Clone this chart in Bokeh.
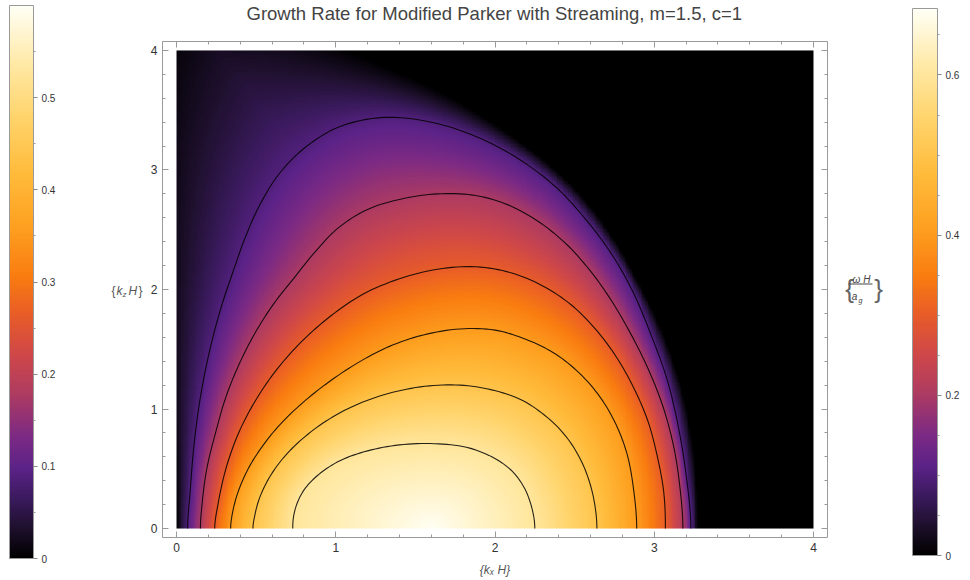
import numpy as np
from bokeh.plotting import figure
from bokeh.models import (LinearColorMapper, ColorBar, LinearAxis, SingleIntervalTicker,
                          FixedTicker, Range1d)
from bokeh.layouts import row
from bokeh.embed import file_html
from bokeh.resources import INLINE
from bokeh.core.properties import value

FONT = "Liberation Sans"

# ---------------- data ----------------
title_text = "Growth Rate for Modified Parker with Streaming, m=1.5, c=1"
x_label = "{kₓ H}"
domain_kx = [0.0, 4.0]
domain_kz = [0.0, 4.0]
axis_ticks = [0, 1, 2, 3, 4]

contour_levels = [0.1, 0.2, 0.3, 0.4, 0.5, 0.6]

# contour lines (kx, kz), traced from foot to foot
c10_kx = [0.07, 0.085, 0.11, 0.15, 0.21, 0.28, 0.355, 0.43, 0.52, 0.64, 0.80, 1.02, 1.30,
          1.60, 1.88, 2.14, 2.38, 2.58, 2.74, 2.87, 2.98, 3.08, 3.15, 3.20, 3.23]
c10_kz = [0.00, 0.30, 0.70, 1.10, 1.50, 1.85, 2.15, 2.43, 2.70, 2.96, 3.18, 3.36, 3.44,
          3.40, 3.28, 3.10, 2.86, 2.57, 2.28, 1.97, 1.62, 1.25, 0.86, 0.45, 0.00]
c20_kx = [0.15, 0.16, 0.19, 0.245, 0.31, 0.395, 0.495, 0.61, 0.74, 0.88, 1.02, 1.20, 1.42, 1.64,
          1.86, 2.06, 2.26, 2.44, 2.59, 2.72, 2.84, 2.95, 3.05, 3.12, 3.16, 3.18]
c20_kz = [0.00, 0.20, 0.50, 0.80, 1.10, 1.38, 1.64, 1.88, 2.10, 2.33, 2.52, 2.67, 2.76, 2.80,
          2.79, 2.72, 2.58, 2.39, 2.17, 1.93, 1.66, 1.37, 1.04, 0.70, 0.36, 0.00]
c30_kx = [0.24, 0.26, 0.31, 0.39, 0.50, 0.635, 0.79, 0.97, 1.17, 1.40, 1.64, 1.88,
          2.10, 2.30, 2.48, 2.63, 2.76, 2.87, 2.96, 3.02, 3.06, 3.07]
c30_kz = [0.00, 0.20, 0.50, 0.80, 1.08, 1.34, 1.57, 1.78, 1.96, 2.09, 2.17, 2.19,
          2.14, 2.03, 1.87, 1.67, 1.44, 1.18, 0.90, 0.60, 0.30, 0.00]
c40_kx = [0.34, 0.35, 0.385, 0.45, 0.54, 0.65, 0.79, 0.95, 1.13, 1.33, 1.55, 1.78,
          2.00, 2.20, 2.38, 2.53, 2.66, 2.76, 2.83, 2.87, 2.89]
c40_kz = [0.00, 0.12, 0.30, 0.50, 0.69, 0.87, 1.05, 1.22, 1.38, 1.52, 1.62, 1.67,
          1.66, 1.58, 1.46, 1.30, 1.10, 0.87, 0.62, 0.33, 0.00]
c50_kx = [0.48, 0.49, 0.52, 0.58, 0.67, 0.79, 0.94, 1.12, 1.33, 1.56, 1.78,
          1.98, 2.16, 2.31, 2.44, 2.54, 2.60, 2.63, 2.64]
c50_kz = [0.00, 0.10, 0.25, 0.42, 0.59, 0.75, 0.90, 1.03, 1.13, 1.19, 1.20,
          1.16, 1.08, 0.95, 0.78, 0.57, 0.36, 0.17, 0.00]
c60_kx = [0.73, 0.735, 0.76, 0.81, 0.90, 1.03, 1.20, 1.40, 1.62, 1.82, 1.98, 2.10, 2.18, 2.23, 2.25]
c60_kz = [0.00, 0.10, 0.22, 0.34, 0.46, 0.57, 0.65, 0.70, 0.71, 0.68, 0.60, 0.49, 0.35, 0.18, 0.00]

# where the growth rate falls to zero (left edge, faded top, sharp right edge)
edge_kx = [0.00, 0.00, 0.60, 0.95, 1.30, 1.65, 1.98, 2.28, 2.53, 2.73, 2.90, 3.03, 3.14, 3.22,
           3.26, 3.27]
edge_kz = [0.00, 4.40, 4.28, 4.08, 3.88, 3.66, 3.40, 3.11, 2.80, 2.45, 2.05, 1.70, 1.30, 0.85,
           0.40, 0.00]

# maximum growth rate
peak_kx, peak_kz, peak_rate = 1.60, 0.0, 0.68

# colour bars
left_bar_max = 0.60
left_bar_ticks = [0.0, 0.1, 0.2, 0.3, 0.4, 0.5]
left_bar_minor = [0.05, 0.15, 0.25, 0.35, 0.45, 0.55]
right_bar_max = 0.683
right_bar_ticks = [0.0, 0.2, 0.4, 0.6]
right_bar_minor = [0.05, 0.1, 0.15, 0.25, 0.3, 0.35, 0.45, 0.5, 0.55, 0.65]

# SunsetColors-like gradient
cmap_pos = [0.0, 0.05, 0.10, 0.16, 0.22, 0.30, 0.37, 0.44, 0.51, 0.60, 0.70, 0.80, 0.90, 1.0]
cmap_hex = ["#000000", "#1c0f2a", "#361957", "#5a2287", "#7c2a84", "#b03c60", "#d04848",
            "#e85c28", "#f97c10", "#fea020", "#ffbc3c", "#ffd46c", "#ffeaa8", "#fffff5"]

# ---------------- helpers ----------------
def hex2rgb(h):
    return [int(h[i:i + 2], 16) for i in (1, 3, 5)]

rgb = np.array([hex2rgb(h) for h in cmap_hex], float)
tt = np.arange(256) / 255.0
palette = ["#%02x%02x%02x" % tuple(int(round(np.interp(t, cmap_pos, rgb[:, k]))) for k in range(3))
           for t in tt]


def smooth(xs, ys, n=8, alpha=0.5):
    """centripetal Catmull-Rom through the read points (mirrored at kz = 0)"""
    P = np.column_stack([xs, ys]).astype(float)
    first = np.array([P[1, 0], -P[1, 1]])
    last = np.array([P[-2, 0], -P[-2, 1]])
    Q = np.vstack([first, P, last])
    out = []
    for i in range(len(Q) - 3):
        p0, p1, p2, p3 = Q[i:i + 4]
        t0 = 0.0
        t1 = t0 + max(np.linalg.norm(p1 - p0), 1e-6) ** alpha
        t2 = t1 + max(np.linalg.norm(p2 - p1), 1e-6) ** alpha
        t3 = t2 + max(np.linalg.norm(p3 - p2), 1e-6) ** alpha
        t = (t1 + (t2 - t1) * np.arange(n) / n)[:, None]
        A1 = (t1 - t) / (t1 - t0) * p0 + (t - t0) / (t1 - t0) * p1
        A2 = (t2 - t) / (t2 - t1) * p1 + (t - t1) / (t2 - t1) * p2
        A3 = (t3 - t) / (t3 - t2) * p2 + (t - t2) / (t3 - t2) * p3
        B1 = (t2 - t) / (t2 - t0) * A1 + (t - t0) / (t2 - t0) * A2
        B2 = (t3 - t) / (t3 - t1) * A2 + (t - t1) / (t3 - t1) * A3
        out.append((t2 - t) / (t2 - t1) * B1 + (t - t1) / (t2 - t1) * B2)
    out.append(P[-1][None, :])
    return np.vstack(out)


def dist_to_polyline(X, Y, pts):
    d2 = np.full(X.shape, np.inf)
    for (x0, y0), (x1, y1) in zip(pts[:-1], pts[1:]):
        dx, dy = x1 - x0, y1 - y0
        L2 = dx * dx + dy * dy
        if L2 == 0:
            continue
        t = np.clip(((X - x0) * dx + (Y - y0) * dy) / L2, 0, 1)
        ex = X - (x0 + t * dx)
        ey = Y - (y0 + t * dy)
        d2 = np.minimum(d2, ex * ex + ey * ey)
    return np.sqrt(d2)


def inside(X, Y, pts):
    poly = np.vstack([pts, [[pts[-1, 0], -1.0], [pts[0, 0], -1.0]]])
    res = np.zeros(X.shape, bool)
    n = len(poly)
    j = n - 1
    for i in range(n):
        xi, yi = poly[i]
        xj, yj = poly[j]
        if yi != yj:
            cond = ((yi > Y) != (yj > Y)) & (X < (xj - xi) * (Y - yi) / (yj - yi) + xi)
            res ^= cond
        j = i
    return res


contours = [(c10_kx, c10_kz), (c20_kx, c20_kz), (c30_kx, c30_kz),
            (c40_kx, c40_kz), (c50_kx, c50_kz), (c60_kx, c60_kz)]
curves = [smooth(edge_kx, edge_kz)] + [smooth(cx, cz) for cx, cz in contours]
levels_all = [0.0] + contour_levels

# ---------------- field between the read contours ----------------
N = 360
g = domain_kx[0] + (np.arange(N) + 0.5) * (domain_kx[1] - domain_kx[0]) / N
h = domain_kz[0] + (np.arange(N) + 0.5) * (domain_kz[1] - domain_kz[0]) / N
X, Y = np.meshgrid(g, h)
D = [dist_to_polyline(X, Y, c) for c in curves]
INS = [inside(X, Y, c) for c in curves]
count = np.sum(INS[1:], axis=0)
rate = np.zeros(X.shape)
for k in range(len(contour_levels)):
    band = INS[0] & (count == k)
    lo, hi = levels_all[k], levels_all[k + 1]
    rate[band] = lo + (hi - lo) * D[k][band] / (D[k][band] + D[k + 1][band] + 1e-12)
band = INS[0] & (count == len(contour_levels))
dp = np.hypot(X - peak_kx, Y - peak_kz)
rate[band] = contour_levels[-1] + (peak_rate - contour_levels[-1]) * D[-1][band] / (D[-1][band] + dp[band] + 1e-12)

# ---------------- main plot ----------------
mapper_main = LinearColorMapper(palette=palette, low=0.0, high=right_bar_max)
p = figure(width=687, height=580, x_range=Range1d(-0.088, 4.088), y_range=Range1d(-0.075, 4.075),
           output_backend="svg", toolbar_location=None,
           min_border_left=17, min_border_right=5, min_border_top=41, min_border_bottom=43)
p.image(image=[rate], x=domain_kx[0], y=domain_kz[0], dw=domain_kx[1] - domain_kx[0],
        dh=domain_kz[1] - domain_kz[0], color_mapper=mapper_main)
for c in curves[1:]:
    p.line(c[:, 0], c[:, 1], line_color="black", line_width=1.1, line_alpha=0.85)

p.add_layout(LinearAxis(), "above")
p.add_layout(LinearAxis(), "right")
p.grid.visible = False
p.outline_line_color = None
p.background_fill_color = "white"
for ax in p.axis:
    ax.ticker = SingleIntervalTicker(interval=1, num_minor_ticks=5)
    ax.axis_line_color = "#9a9a9a"
    ax.major_tick_line_color = "#9a9a9a"
    ax.minor_tick_line_color = "#9a9a9a"
    ax.major_tick_in = 6
    ax.major_tick_out = 0
    ax.minor_tick_in = 3
    ax.minor_tick_out = 0
    ax.major_label_text_font = FONT
    ax.major_label_text_font_size = "12px"
    ax.major_label_text_color = "#333333"
    ax.major_label_standoff = 5
for ax in (p.above[0], p.right[0]):
    ax.major_label_overrides = {t: "" for t in axis_ticks}
    ax.major_label_standoff = 0
bx = p.below[0]
bx.axis_label = x_label
bx.axis_label_text_font = FONT
bx.axis_label_text_font_size = "12px"
bx.axis_label_text_font_style = "italic"
bx.axis_label_text_color = "#555555"
bx.axis_label_standoff = 8

# title: carried by an empty, transparent colour-bar annotation so that it can sit
# in the 41 px strip above the frame (x, y are screen pixels from the frame's lower left)
title_bar = ColorBar(color_mapper=mapper_main, orientation="horizontal", location=(84, 513),
                     width=500, height=1, padding=0, scale_alpha=0.0,
                     ticker=FixedTicker(ticks=[]), bar_line_color=None, border_line_color=None,
                     background_fill_alpha=0, title=title_text, title_standoff=0,
                     title_text_font=FONT, title_text_font_size="18.5px",
                     title_text_font_style="normal", title_text_color="#444444")
p.add_layout(title_bar)

# ---------------- left strip: colour bar and kz label ----------------
# (the row aligns this strip's frame with the main frame: page rows 41..537)
pl = figure(width=145, height=580, x_range=Range1d(0, 145), y_range=Range1d(43, 539),
            x_axis_location=None, y_axis_location=None, min_border=0,
            output_backend="svg", toolbar_location=None, outline_line_color=None)
pl.grid.visible = False
mapper_left = LinearColorMapper(palette=palette, low=0.0, high=left_bar_max)
cbL = ColorBar(color_mapper=mapper_left, location=(9, -21), width=24, height=553, padding=0,
               ticker=FixedTicker(ticks=left_bar_ticks, minor_ticks=left_bar_minor),
               major_label_overrides={0: "0"},
               major_label_text_font=FONT, major_label_text_font_size="10px",
               major_label_text_color="#333333", major_tick_in=0, major_tick_out=4,
               minor_tick_in=0, minor_tick_out=2, minor_tick_line_color="#999999",
               major_tick_line_color="#888888", bar_line_color="#999999", label_standoff=4,
               background_fill_alpha=0)
pl.add_layout(cbL)
tf = value(FONT)
pl.text(x=[111], y=[290], text=["{"], text_font=tf, text_font_size="12px",
        text_baseline="middle", text_color="#555555")
pl.text(x=[116, 128], y=[290, 290], text=["k", "H"], text_font=tf, text_font_size="12px",
        text_font_style="italic", text_baseline="middle", text_color="#555555")
pl.text(x=[122], y=[286], text=["z"], text_font=tf, text_font_size="8px",
        text_font_style="italic", text_baseline="middle", text_color="#555555")
pl.text(x=[138], y=[290], text=["}"], text_font=tf, text_font_size="12px",
        text_baseline="middle", text_color="#555555")

# ---------------- right strip: omega label and colour bar ----------------
pr = figure(width=138, height=580, x_range=Range1d(0, 138), y_range=Range1d(43, 539),
            x_axis_location=None, y_axis_location=None, min_border=0,
            output_backend="svg", toolbar_location=None, outline_line_color=None)
pr.grid.visible = False
cbR = ColorBar(color_mapper=mapper_main, location=(80, -18), width=25, height=547, padding=0,
               ticker=FixedTicker(ticks=right_bar_ticks, minor_ticks=right_bar_minor),
               major_label_overrides={0: "0"},
               major_label_text_font=FONT, major_label_text_font_size="10px",
               major_label_text_color="#333333", major_tick_in=0, major_tick_out=4,
               minor_tick_in=0, minor_tick_out=2, minor_tick_line_color="#999999",
               major_tick_line_color="#888888", bar_line_color="#999999", label_standoff=4,
               background_fill_alpha=0)
pr.add_layout(cbR)
pr.text(x=[17, 46], y=[292, 292], text=["{", "}"], text_font=tf, text_font_size="26px",
        text_align="center", text_baseline="middle", text_color="#666666")
pr.text(x=[29], y=[301], text=["ω H"], text_font=tf, text_font_size="10px",
        text_font_style="italic", text_align="center", text_baseline="middle", text_color="#444444")
pr.segment(x0=[16], y0=[296.5], x1=[40], y1=[296.5], line_color="#444444", line_width=1)
pr.text(x=[22], y=[284], text=["a"], text_font=tf, text_font_size="10px",
        text_font_style="italic", text_align="center", text_baseline="middle", text_color="#444444")
pr.text(x=[28], y=[280], text=["g"], text_font=tf, text_font_size="7px",
        text_font_style="italic", text_align="center", text_baseline="middle", text_color="#444444")

layout = row(pl, p, pr, spacing=0)
open("out.html", "w").write(file_html(layout, INLINE))
